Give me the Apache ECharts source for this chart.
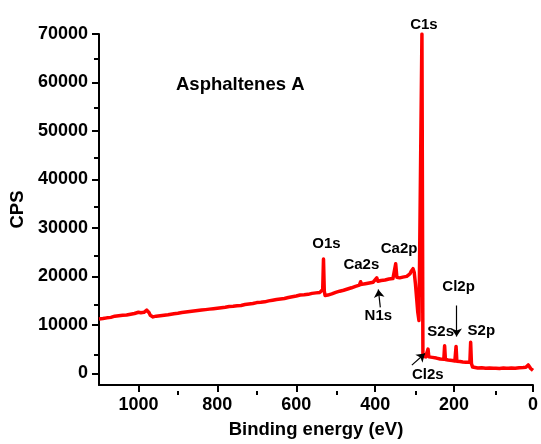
<!DOCTYPE html>
<html>
<head>
<meta charset="utf-8">
<script src="https://cdn.jsdelivr.net/npm/echarts@6/dist/echarts.min.js"></script>
<style>
  html, body { margin: 0; padding: 0; background: #fff; }
  #chart { width: 541px; height: 444px; }
</style>
</head>
<body>
<div id="chart"></div>
<script>
// XPS survey spectrum: binding energy (eV) vs counts per second
const bindingEnergy = [
  1100, 1095, 1090, 1085, 1080, 1075, 1070, 1065, 1060, 1055, 1050, 1045, 1040, 1035, 1030, 1025, 1020, 1015, 1010, 1005,
  1000, 997, 994, 990, 986, 982, 979, 976, 973, 970, 967, 963, 959, 955, 950, 945, 940, 935, 930, 925,
  920, 910, 905, 900, 890, 880, 875, 870, 860, 855, 850, 840, 835, 830, 820, 810, 805, 800, 790, 780,
  775, 770, 760, 750, 745, 740, 730, 720, 715, 710, 700, 690, 685, 680, 670, 660, 655, 650, 640, 635,
  630, 620, 610, 605, 600, 590, 580, 575, 570, 560, 550, 545, 540, 535, 533, 531, 529, 527, 523, 520,
  515, 510, 500, 495, 490, 480, 475, 470, 460, 455, 450, 445, 440, 437, 434, 430, 425, 420, 415, 410,
  405, 400, 396, 393, 390, 385, 380, 375, 370, 365, 360, 355, 351, 348, 345, 342, 338, 335, 330, 325,
  320, 316, 312, 309, 306, 304, 301, 298, 295, 292, 289, 287, 285.5, 281.5, 279, 276, 272, 269, 266, 264,
  260, 255, 250, 245, 240, 235, 230, 226, 224, 222, 215, 210, 205, 198, 195, 193, 185, 178, 170, 165,
  160, 158, 156, 153, 148, 140, 130, 120, 110, 100, 97, 94, 85, 75, 68, 65, 62, 55, 45, 35,
  25, 18, 14, 12, 10, 6, 3, 0
];
const counts = [
  11200, 11350, 11300, 11500, 11450, 11600, 11550, 11750, 11800, 11700, 11900, 11850, 12000, 12100, 12050, 12250, 12200, 12400, 12350, 12550,
  12600, 12850, 12500, 12650, 12600, 12800, 13050, 12900, 12500, 12000, 11800, 11650, 11750, 11800, 11950, 11900, 12050, 12000, 12150, 12100,
  12250, 12300, 12450, 12400, 12550, 12650, 12600, 12750, 12850, 12800, 12950, 13050, 13000, 13150, 13250, 13350, 13300, 13450, 13550, 13650,
  13600, 13800, 13850, 13950, 14050, 14000, 14200, 14300, 14450, 14400, 14600, 14650, 14800, 14750, 14950, 15100, 15050, 15250, 15350, 15500,
  15450, 15650, 15800, 15900, 15950, 16150, 16200, 16350, 16300, 16500, 16600, 16550, 16700, 16750, 17300, 23600, 17000, 16050, 15950, 16150,
  16300, 16400, 16700, 16800, 16950, 17150, 17350, 17400, 17650, 17750, 17950, 18100, 18200, 18900, 18350, 18400, 18500, 18600, 18650, 18600,
  18800, 18900, 19700, 19000, 19100, 19150, 19300, 19250, 19400, 19450, 19400, 19550, 19700, 22600, 19800, 19500, 19700, 19800, 19850, 19950,
  20000, 20300, 20500, 21000, 21400, 21600, 20800, 18500, 15600, 12600, 10900, 10500, 11200, 70000, 3500, 3300, 3400, 3350, 5000, 3400,
  3350, 3300, 3200, 3150, 3050, 2950, 2900, 2900, 5700, 2850, 2750, 2700, 2650, 2550, 5550, 2500, 2450, 2350, 2300, 2250,
  2300, 6400, 2000, 1300, 1150, 1100, 1150, 1050, 1100, 1050, 1450, 1050, 1000, 1100, 1050, 1350, 1050, 1100, 1050, 1150,
  1200, 1250, 1500, 1750, 1400, 1000, 800, 600
];

// Axis ticks
const yMajorTicks = [0, 10000, 20000, 30000, 40000, 50000, 60000, 70000];
const yMinorTicks = [5000, 15000, 25000, 35000, 45000, 55000, 65000];
const xMajorTicks = [0, 200, 400, 600, 800, 1000];
const xMinorTicks = [100, 300, 500, 700, 900];

// Peak labels, placed in data coordinates [eV, CPS]
const peakLabels = [
  { text: 'C1s',  at: [276.5, 71800] },
  { text: 'O1s',  at: [523.5, 26800] },
  { text: 'Ca2s', at: [435, 22350] },
  { text: 'Ca2p', at: [339.5, 25600] },
  { text: 'N1s',  at: [392, 11800] },
  { text: 'Cl2p', at: [188.5, 17900] },
  { text: 'S2s',  at: [234, 8550] },
  { text: 'S2p',  at: [131, 8750] },
  { text: 'Cl2s', at: [266.5, -350] }
];
// Arrows: [from, to], arrow head at "to"
const peakArrows = [
  [[387, 13600], [392, 17300]],
  [[193.5, 14000], [193.5, 7600]],
  [[307, 1700], [274, 4100]]
];
const sampleTitle = { text: 'Asphaltenes A', at: [742, 59500] };

const FONT = '"Liberation Sans", Arial, sans-serif';
const chart = echarts.init(document.getElementById('chart'), null, { renderer: 'canvas' });

const gridBox = { left: 98, right: 6, top: 34, bottom: 53 };
const Y_MIN = -2400, Y_MAX = 70000, X_MIN = 0, X_MAX = 1100;
const plain = v => String(v);

const option = {
  animation: false,
  backgroundColor: '#ffffff',
  grid: [
    Object.assign({ containLabel: false }, gridBox),
    Object.assign({ containLabel: false }, gridBox)
  ],
  xAxis: [
    {
      type: 'value', gridIndex: 0, inverse: true, min: X_MIN, max: X_MAX,
      name: 'Binding energy (eV)', nameLocation: 'middle', nameGap: 35,
      nameTextStyle: { fontFamily: FONT, fontWeight: 'bold', fontSize: 18.5, color: '#000' },
      axisLine: { show: true, onZero: false, lineStyle: { color: '#000', width: 2 } },
      axisTick: { show: true, inside: false, length: 7, customValues: xMajorTicks, lineStyle: { color: '#000', width: 2 } },
      axisLabel: { show: true, margin: 11, customValues: xMajorTicks, formatter: plain, fontFamily: FONT, fontWeight: 'bold', fontSize: 18, color: '#000' },
      splitLine: { show: false }
    },
    {
      type: 'value', gridIndex: 1, inverse: true, min: X_MIN, max: X_MAX,
      axisLine: { show: false, onZero: false },
      axisTick: { show: true, inside: false, length: 4, customValues: xMinorTicks, lineStyle: { color: '#000', width: 2 } },
      axisLabel: { show: false },
      splitLine: { show: false }
    }
  ],
  yAxis: [
    {
      type: 'value', gridIndex: 0, min: Y_MIN, max: Y_MAX,
      name: 'CPS', nameLocation: 'middle', nameGap: 72, nameRotate: 90,
      nameTextStyle: { fontFamily: FONT, fontWeight: 'bold', fontSize: 18.5, color: '#000' },
      axisLine: { show: true, onZero: false, lineStyle: { color: '#000', width: 2 } },
      axisTick: { show: true, inside: false, length: 7, customValues: yMajorTicks, lineStyle: { color: '#000', width: 2 } },
      axisLabel: { show: true, margin: 11, customValues: yMajorTicks, formatter: plain, fontFamily: FONT, fontWeight: 'bold', fontSize: 18, color: '#000' },
      splitLine: { show: false }
    },
    {
      type: 'value', gridIndex: 1, min: Y_MIN, max: Y_MAX,
      axisLine: { show: false, onZero: false },
      axisTick: { show: true, inside: false, length: 4, customValues: yMinorTicks, lineStyle: { color: '#000', width: 2 } },
      axisLabel: { show: false },
      splitLine: { show: false }
    }
  ],
  series: [
    {
      name: 'Asphaltenes A',
      type: 'line',
      xAxisIndex: 0, yAxisIndex: 0,
      data: bindingEnergy.map((e, i) => [e, counts[i]]),
      showSymbol: false,
      symbol: 'none',
      lineStyle: { color: '#ff0000', width: 3.5, join: 'round' },
      clip: true,
      z: 3,
      markLine: {
        silent: true,
        symbol: ['none', 'arrow'],
        symbolSize: 8,
        label: { show: false },
        emphasis: { disabled: true },
        lineStyle: { color: '#000', width: 1.2, type: 'solid', opacity: 1 },
        data: peakArrows.map(a => [{ coord: a[0] }, { coord: a[1] }])
      }
    }
  ]
};

chart.setOption(option);

// Text annotations positioned through the axes' own scales
function toPx(pt) {
  return chart.convertToPixel({ xAxisIndex: 0, yAxisIndex: 0 }, pt);
}
const graphics = peakLabels.map(p => {
  const px = toPx(p.at);
  return {
    type: 'text', x: px[0], y: px[1], z: 10,
    style: { text: p.text, fill: '#000', font: 'bold 15px ' + FONT, align: 'center', verticalAlign: 'middle' }
  };
});
const tp = toPx(sampleTitle.at);
graphics.push({
  type: 'text', x: tp[0], y: tp[1], z: 10,
  style: { text: sampleTitle.text, fill: '#000', font: 'bold 18.5px ' + FONT, align: 'center', verticalAlign: 'middle' }
});
chart.setOption({ graphic: graphics });
</script>
</body>
</html>
